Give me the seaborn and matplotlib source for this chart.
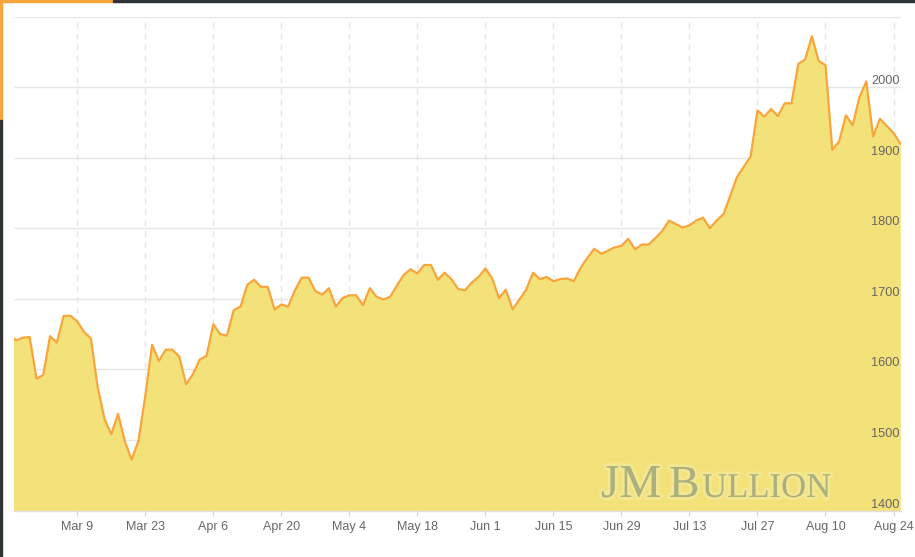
# Gold spot price area chart (Feb - Aug 2020)
# ==========================================

import numpy as np
import pandas as pd
import seaborn as sns
import matplotlib.pyplot as plt
import matplotlib.patheffects as pe


# =========================
# 1. Data
# =========================
prices = [
    1650, 1641, 1645, 1646, 1587, 1592, 1647, 1638, 1676, 1676,
    1668, 1653, 1644, 1575, 1530, 1508, 1537, 1498, 1472, 1499,
    1562, 1635, 1612, 1628, 1628, 1618, 1579, 1593, 1614, 1619,
    1664, 1650, 1648, 1684, 1689, 1720, 1727, 1717, 1717, 1685,
    1692, 1689, 1712, 1730, 1730, 1711, 1706, 1715, 1689, 1701,
    1705, 1705, 1691, 1715, 1703, 1699, 1703, 1719, 1734, 1742,
    1736, 1748, 1748, 1727, 1737, 1728, 1714, 1712, 1723, 1731,
    1743, 1729, 1701, 1713, 1685, 1699, 1713, 1737, 1728, 1731,
    1725, 1728, 1729, 1725, 1744, 1758, 1771, 1764, 1768, 1773,
    1775, 1785, 1770, 1777, 1777, 1786, 1796, 1811, 1806, 1801,
    1804, 1811, 1815, 1800, 1811, 1820, 1846, 1873, 1887, 1902,
    1967, 1958, 1969, 1959, 1977, 1977, 2033, 2039, 2072, 2037,
    2031, 1911, 1923, 1960, 1946, 1986, 2008, 1930, 1955, 1945,
    1935, 1920,
]

tick_labels = ["Mar 9", "Mar 23", "Apr 6", "Apr 20", "May 4", "May 18",
               "Jun 1", "Jun 15", "Jun 29", "Jul 13", "Jul 27", "Aug 10",
               "Aug 24"]
tick_steps = [10, 20, 30, 40, 50, 60, 70, 80, 90, 100, 110, 120, 130]

y_ticks = [1400, 1500, 1600, 1700, 1800, 1900, 2000, 2100]

df = pd.DataFrame({"step": np.arange(len(prices)), "price": prices})


# =========================
# 2. Style
# =========================
sns.set_theme(style="white")
plt.rcParams["font.family"] = ["Liberation Sans", "DejaVu Sans"]
plt.rcParams["lines.scale_dashes"] = False

LINE = "#f8a53b"
FILL = "#f3e27a"
GRID = "#e6e6e6"
TEXT = "#666666"
DARK = "#2f3537"


# =========================
# 3. Plot
# =========================
fig = plt.figure(figsize=(9.15, 5.57), dpi=100)
ax = fig.add_axes([14 / 915, 46.4 / 557, 887 / 915, 494.1 / 557])
ax.set_axisbelow(False)

ax.fill_between(df["step"], df["price"], y_ticks[0], color=FILL,
                linewidth=0, zorder=2)
sns.lineplot(data=df, x="step", y="price", color=LINE, linewidth=1.6,
             ax=ax, zorder=3)

ax.set_xlim(0.7, 131.1)
ax.set_ylim(y_ticks[0], y_ticks[-1])

ax.set_xticks(tick_steps)
ax.set_xticklabels(tick_labels)
ax.set_yticks(y_ticks)
ax.set_yticklabels([str(v) for v in y_ticks[:-1]] + [""])

ax.yaxis.tick_right()
ax.tick_params(axis="y", length=0, pad=-1, labelsize=9.2, labelcolor=TEXT)
ax.tick_params(axis="x", length=3.8, width=0.8, color="#d8d8d8", pad=3.5,
               labelsize=9, labelcolor=TEXT, bottom=True)
plt.setp(ax.get_yticklabels(), ha="right", va="bottom")

ax.grid(False)
for v in y_ticks:
    ax.axhline(v, color=GRID, linewidth=1, zorder=1)
for s in tick_steps:
    ax.axvline(s, color=GRID, linewidth=1, linestyle=(0, (4.3, 3.6)),
               zorder=1)

ax.set_xlabel("")
ax.set_ylabel("")
for side in ["top", "left", "right"]:
    ax.spines[side].set_visible(False)
ax.spines["bottom"].set_color("#e0e0e0")
ax.spines["bottom"].set_linewidth(1)

# watermark
glow = [pe.withStroke(linewidth=4, foreground="#f6eeb0", alpha=0.45)]
wm = dict(transform=None, color="#acb07e", family="Liberation Serif",
          va="baseline", ha="left", zorder=4, path_effects=glow)
ax.text(601, 557 - 497, "JM", fontsize=34, **wm)
ax.text(669, 557 - 497, "B", fontsize=33, **wm)
ax.text(702, 557 - 497, "ULLION", fontsize=25, **wm)

# page frame strips
frame = [
    ((0, 555), 113, 2, LINE),
    ((113, 555), 802, 2, DARK),
    ((0, 437), 2, 120, LINE),
    ((0, 0), 2, 437, DARK),
]
for (x0, y0), w, h, c in frame:
    fig.add_artist(plt.Rectangle((x0 / 915, y0 / 557), w / 915, h / 557,
                                 color=c, transform=fig.transFigure))

fig.savefig("out.png", dpi=100)
